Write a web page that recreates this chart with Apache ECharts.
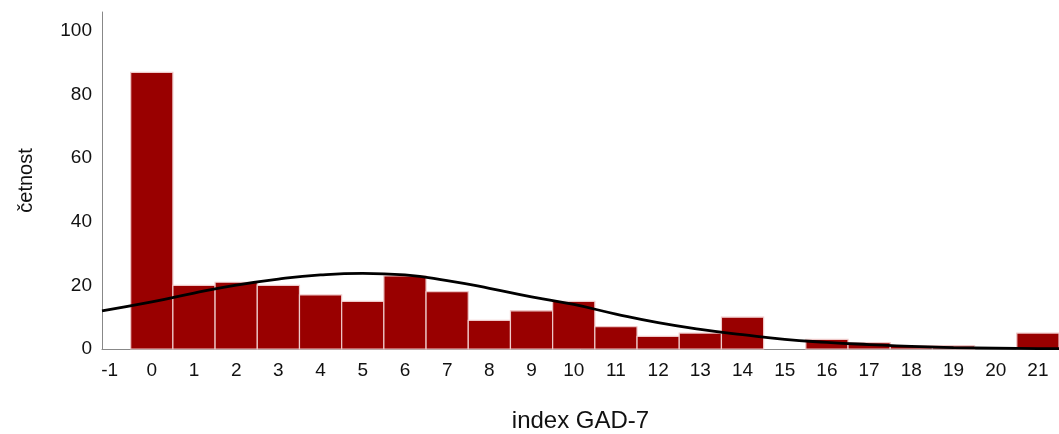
<!DOCTYPE html>
<html>
<head>
<meta charset="utf-8">
<script src="https://cdn.jsdelivr.net/npm/echarts@6/dist/echarts.min.js"></script>
<style>
html,body{margin:0;padding:0;background:#fff;}
#chart{width:1059px;height:434px;}
</style>
</head>
<body>
<div id="chart"></div>
<script>
// GAD-7 index scores (bins)
const scores = [0,1,2,3,4,5,6,7,8,9,10,11,12,13,14,15,16,17,18,19,20,21];
// frequencies (četnost)
const counts = [87,20,21,20,17,15,23,18,9,12,15,7,4,5,10,0,3,2,1,1,0,5];
// fitted normal curve
const curveX = [-1.18,0,1,2,3,4,5,6,7,8,9,10,11,12,13,14,15,16,17,18,19,20,21,21.5];
const curveY = [12.0,14.8,17.6,20.1,22.0,23.3,23.8,23.3,21.5,19.1,16.4,14.0,11.0,8.3,6.2,4.5,3.0,2.1,1.4,0.8,0.45,0.25,0.12,0.1];
// tick labels
const xTicks = [-1,0,1,2,3,4,5,6,7,8,9,10,11,12,13,14,15,16,17,18,19,20,21];
const yTicks = [0,20,40,60,80,100];

const barData = scores.map((s,i)=>[s,counts[i]]).filter(d=>d[1]>0);
const lineData = curveX.map((x,i)=>[x,curveY[i]]);

const font = "'Liberation Sans', Arial, sans-serif";
const chart = echarts.init(document.getElementById('chart'));
chart.setOption({
  animation:false,
  backgroundColor:'#fff',
  grid:{left:102,right:0,top:12,bottom:85,containLabel:false,outerBoundsMode:'none'},
  xAxis:{
    type:'value', min:-1.18, max:21.5,
    name:'index GAD-7', nameLocation:'middle', nameGap:60,
    nameTextStyle:{fontFamily:font,fontSize:24,color:'#111'},
    axisLine:{show:true,onZero:false,lineStyle:{color:'#888',width:1}},
    axisTick:{show:false},
    splitLine:{show:false},
    axisLabel:{customValues:xTicks,fontFamily:font,fontSize:19,color:'#111',margin:12}
  },
  yAxis:{
    type:'value', min:0, max:106,
    name:'četnost', nameLocation:'middle', nameGap:66, nameRotate:90,
    nameTextStyle:{fontFamily:font,fontSize:20,color:'#111'},
    axisLine:{show:true,onZero:false,lineStyle:{color:'#888',width:1}},
    axisTick:{show:false},
    splitLine:{show:false},
    axisLabel:{customValues:yTicks,fontFamily:font,fontSize:19,color:'#111',margin:10}
  },
  series:[
    {
      type:'custom',
      data:barData,
      z:2,
      renderItem:function(params,api){
        const x = api.value(0), y = api.value(1);
        const p0 = api.coord([x-0.5,y]);
        const p1 = api.coord([x+0.5,0]);
        return {
          type:'rect',
          shape:{x:p0[0],y:p0[1],width:p1[0]-p0[0],height:p1[1]-p0[1]},
          style:{fill:'#990000',stroke:'#efcaca',lineWidth:1.2}
        };
      }
    },
    {
      type:'line',
      data:lineData,
      smooth:true,
      showSymbol:false,
      z:5,
      lineStyle:{color:'#000',width:2.8}
    }
  ]
});
</script>
</body>
</html>
